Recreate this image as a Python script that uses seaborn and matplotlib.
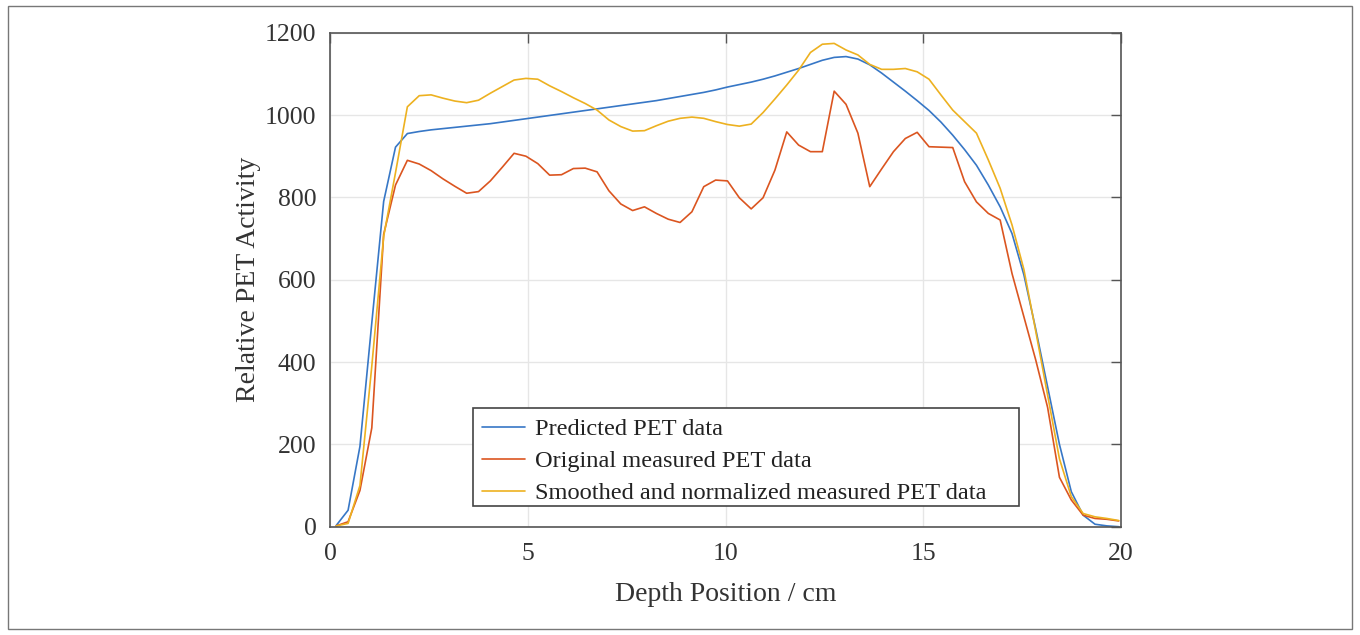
import numpy as np
import pandas as pd
import matplotlib
matplotlib.use("Agg")
import matplotlib.pyplot as plt
import seaborn as sns

# depth grid (cm)
depth = [0.15 + 0.3 * k for k in range(67)]

predicted = [3, 40, 195, 495, 790, 922, 955, 960, 964, 967,
             970, 973, 976, 979, 983, 987, 991, 995, 999, 1003,
             1007, 1011, 1015, 1019, 1023, 1027, 1031, 1035, 1040, 1045,
             1050, 1055, 1061, 1068, 1074, 1080, 1087, 1095, 1104, 1113,
             1123, 1133, 1140, 1142, 1136, 1122, 1102, 1080, 1058, 1035,
             1011, 983, 951, 916, 878, 830, 777, 712, 612, 480,
             340, 200, 85, 28, 6, 2, 0]

original = [2, 12, 88, 240, 710, 830, 890, 881, 865, 845,
            827, 810, 814, 840, 873, 907, 900, 882, 854, 855,
            870, 871, 862, 816, 784, 768, 777, 761, 747, 739,
            765, 826, 842, 840, 799, 772, 799, 866, 959, 927,
            911, 911, 1058, 1026, 956, 826, 869, 911, 943, 958,
            923, 922, 921, 838, 789, 761, 745, 615, 510, 405,
            290, 120, 65, 28, 20, 18, 14]

smoothed = [2, 8, 100, 390, 705, 860, 1020, 1047, 1049, 1041,
            1034, 1030, 1036, 1053, 1069, 1085, 1089, 1087, 1071, 1057,
            1042, 1028, 1012, 988, 972, 961, 962, 974, 985, 992,
            995, 992, 984, 977, 973, 978, 1006, 1039, 1073, 1109,
            1152, 1172, 1174, 1158, 1146, 1123, 1111, 1111, 1113, 1105,
            1087, 1049, 1012, 984, 956, 891, 822, 733, 625, 475,
            320, 165, 73, 32, 24, 20, 15]

series_names = ["Predicted PET data", "Original measured PET data",
                "Smoothed and normalized measured PET data"]
colors = ["#3777C6", "#DB5520", "#EDB120"]

x_ticks = [0, 5, 10, 15, 20]
y_ticks = [0, 200, 400, 600, 800, 1000, 1200]

sns.set_style("white")
plt.rcParams["font.family"] = ["Liberation Serif", "DejaVu Serif"]

fig = plt.figure(figsize=(13.6, 6.35), dpi=100)
W, H = 1360, 635
ax = fig.add_axes([330.3 / W, 1 - 526.7 / H, (1120.7 - 330.3) / W, (526.7 - 32.7) / H])

for name, vals, c in zip(series_names, [predicted, original, smoothed], colors):
    df = pd.DataFrame({"depth": depth, "value": vals})
    sns.lineplot(data=df, x="depth", y="value", ax=ax, color=c, linewidth=1.2,
                 label=name, estimator=None, sort=False)

ax.set_xlim(0, 20)
ax.set_ylim(0, 1200)
ax.set_xticks(x_ticks)
ax.set_yticks(y_ticks)
ax.grid(True, color="#E6E6E6", linewidth=1.0)
ax.set_axisbelow(True)
for s in ax.spines.values():
    s.set_color("#555555")
    s.set_linewidth(1.2)
ax.tick_params(direction="in", length=7, width=1.0, color="#555555",
               top=True, right=True, labelsize=18.5, labelcolor="#333333", pad=10)
ax.tick_params(axis="x", pad=12)
ax.set_xlabel("Depth Position / cm", fontsize=20, color="#333333", labelpad=12)
ax.set_ylabel("Relative PET Activity", fontsize=20, color="#333333", labelpad=3)

# legend (frame drawn separately to mimic MATLAB legend box)
leg = ax.legend(loc="upper left",
                bbox_to_anchor=((475 - 330.3) / 790.4, (526.7 - 411) / 494),
                frameon=False, fontsize=17.6, handlelength=1.75,
                handletextpad=0.4, borderpad=0.3, borderaxespad=0,
                labelspacing=0.4)
for t in leg.get_texts():
    t.set_color("#222222")
for h in leg.legend_handles:
    h.set_linewidth(1.2)
ax.add_patch(plt.Rectangle(((473 - 330.3) / 790.4, (526.7 - 506) / 494),
                           (1019 - 473) / 790.4, (506 - 408) / 494,
                           transform=ax.transAxes, fill=True, facecolor="white",
                           edgecolor="#444444", linewidth=1.2, zorder=4))
leg.set_zorder(5)

# outer figure border
fig.patches.append(plt.Rectangle((8 / W, 1 - 629 / H), (1352 - 8) / W, (629 - 6) / H,
                                 transform=fig.transFigure, fill=False,
                                 edgecolor="#777777", linewidth=1.0))

fig.savefig("out.png", dpi=100)
